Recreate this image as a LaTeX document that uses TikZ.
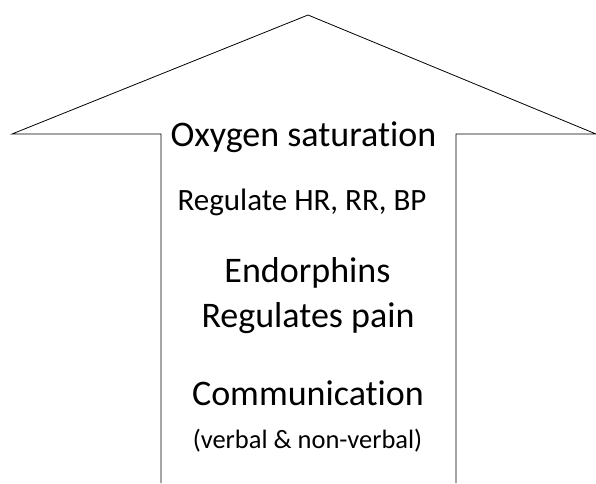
\documentclass[tikz,border=0pt]{standalone}
\usepackage{fontspec}
\setmainfont{Carlito}[Ligatures=NoCommon]
\begin{document}
\begin{tikzpicture}[x=1pt,y=-1pt,
  outline/.style={draw=black, line width=0.8pt, line join=miter},
  big/.style={font=\fontsize{36}{42}\selectfont, inner sep=0pt, anchor=base},
  mid/.style={font=\fontsize{31}{36}\selectfont, inner sep=0pt, anchor=base},
  small/.style={font=\fontsize{26.5}{31}\selectfont, inner sep=0pt, anchor=base}]
\useasboundingbox (0,0) rectangle (596,483);
\coordinate (bl) at (161,483);
\coordinate (sl) at (161,134);
\coordinate (tl) at (12,134);
\coordinate (apex) at (308,15);
\coordinate (tr) at (596,134);
\coordinate (sr) at (456,134);
\coordinate (br) at (456,483);
\draw[outline] (bl) -- (sl) -- (tl) -- (apex) -- (tr) -- (sr) -- (br);
\node[big] (oxy) at (303.5,146) {Oxygen saturation};
\node[mid] (hr) at (302,210) {Regulate HR, RR, BP};
\node[big] (endo) at (307.5,282) {Endorphins};
\node[big] (pain) at (308,327) {Regulates pain};
\node[big] (comm) at (308,405) {Communication};
\node[small] (verb) at (307.5,448) {(verbal \& non-verbal)};
\end{tikzpicture}
\end{document}
